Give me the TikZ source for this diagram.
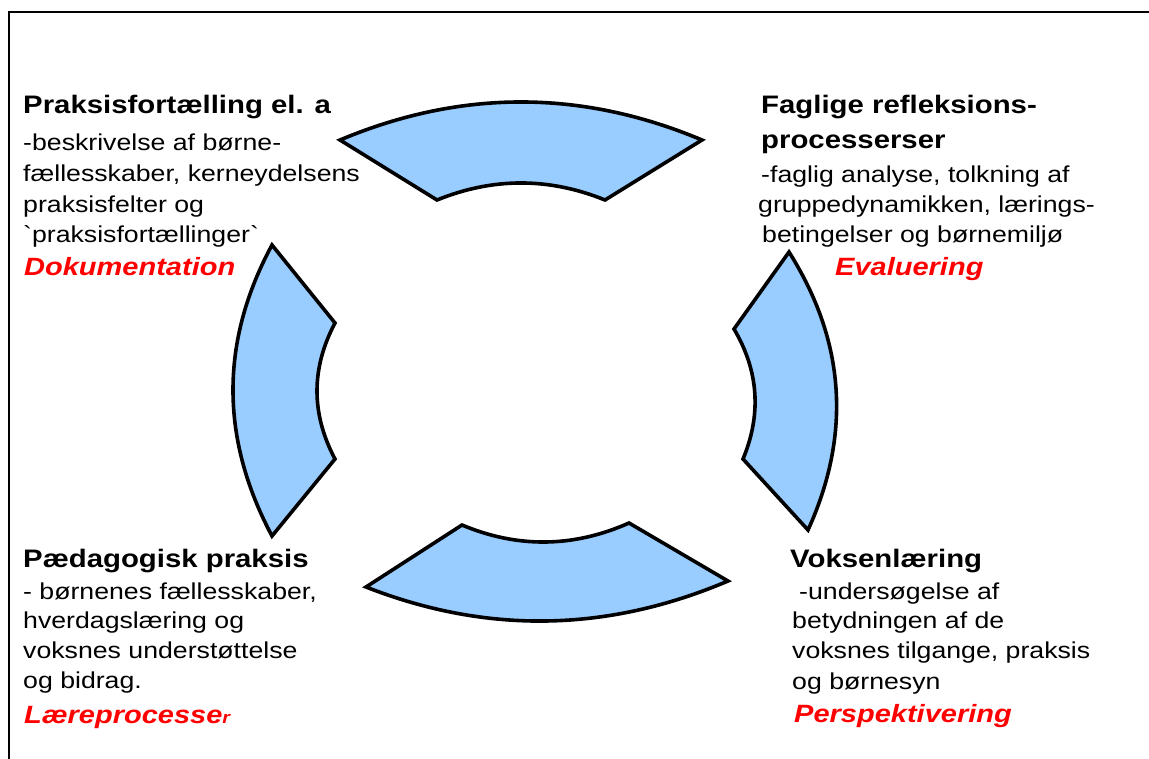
\documentclass[tikz,border=0pt]{standalone}
\usepackage{fontspec}
\setmainfont{Liberation Sans}[FakeStretch=1.16]
\newfontfamily\rawfont{Liberation Sans}[FakeStretch=1.16]
\definecolor{shapeblue}{HTML}{99CCFF}
\definecolor{labelred}{HTML}{FF0000}
\begin{document}
\begin{tikzpicture}[x=1pt,y=-1pt,
  body/.style={anchor=base west, inner sep=0pt, font=\fontsize{23}{31}\selectfont},
  head/.style={anchor=base west, inner sep=0pt, font=\fontsize{25.3}{31}\selectfont\bfseries},
  tag/.style={anchor=base west, inner sep=0pt, text=labelred, font=\fontsize{25}{31}\selectfont\bfseries\itshape},
  seg/.style={draw=black, line width=3.6pt, fill=shapeblue, line join=miter},
  frameline/.style={draw=black, line width=2.4pt}]
\useasboundingbox (0,0) rectangle (1149,758);
\draw[frameline] (9,760) -- (9,12) -- (1151,12);

% top segment
\draw[seg] (340,140) .. controls (460.7,89.3) and (581.3,89.3) .. (702,140)
  -- (605,200) .. controls (549,177.3) and (493,177.3) .. (437,200) -- cycle;
% left segment
\draw[seg] (272,245) .. controls (220,341.3) and (220,438.3) .. (272,536)
  -- (335,459) .. controls (311,413.7) and (311,368.3) .. (335,323) -- cycle;
% right segment
\draw[seg] (789,252) .. controls (845.3,341.2) and (851.7,433.9) .. (808,530)
  -- (743,459) .. controls (761.7,414.1) and (758.7,370.8) .. (734,329) -- cycle;
% bottom segment
\draw[seg] (462,525) .. controls (517.7,548.3) and (573.3,547.7) .. (629,523)
  -- (728,581) .. controls (607.3,632.3) and (486.7,634.3) .. (366,587) -- cycle;

% top-left block
\node[head] (tlh) at (23,113) {Praksisfortælling el. a};
\node[body] (tl1) at (23,150) {-beskrivelse af børne-};
\node[body] (tl2) at (23,181) {fællesskaber, kerneydelsens};
\node[body] (tl3) at (23,212) {praksisfelter og};
\node[body] (tl4) at (23,242) {\rawfont\symbol{96}praksisfortællinger\symbol{96}};
\node[tag]  (tlt) at (24,275) {Dokumentation};

% top-right block
\node[head] (trh1) at (761,113) {Faglige refleksions-};
\node[head] (trh2) at (761,148) {processerser};
\node[body] (tr1) at (761,182) {-faglig analyse, tolkning af};
\node[body] (tr2) at (758,212) {gruppedynamikken, lærings-};
\node[body] (tr3) at (762,242) {betingelser og børnemiljø};
\node[tag]  (trt) at (835,275) {Evaluering};

% bottom-left block
\node[head] (blh) at (23,567) {Pædagogisk praksis};
\node[body] (bl1) at (23,599) {- børnenes fællesskaber,};
\node[body] (bl2) at (23,628) {hverdagslæring og};
\node[body] (bl3) at (23,658) {voksnes understøttelse};
\node[body] (bl4) at (23,688) {og bidrag.};
\node[tag]  (blt) at (24,723) {Læreprocesse{\fontsize{17}{17}\selectfont r}};

% bottom-right block
\node[head] (brh) at (790,567) {Voksenlæring};
\node[body] (br1) at (799,599) {-undersøgelse af};
\node[body] (br2) at (792,628) {betydningen af de};
\node[body] (br3) at (792,658) {voksnes tilgange, praksis};
\node[body] (br4) at (792,689) {og børnesyn};
\node[tag]  (brt) at (794,722) {Perspektivering};
\end{tikzpicture}
\end{document}
